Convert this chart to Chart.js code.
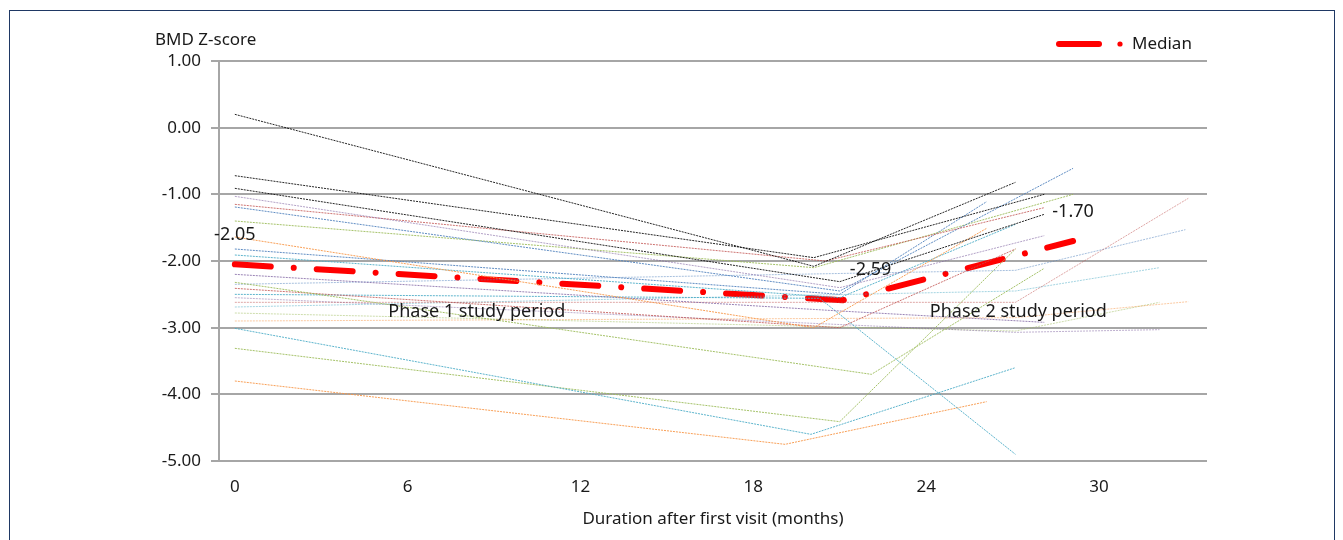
<!DOCTYPE html>
<html>
<head>
<meta charset="utf-8">
<script src="https://cdn.jsdelivr.net/npm/chart.js@4.4.0/dist/chart.umd.min.js"></script>
<style>
body { margin: 0; background: #fff; overflow: hidden; }
#frame { position: absolute; left: 9px; top: 10px; width: 1324px; height: 600px; border: 1px solid #1f3864; }
#wrap { position: absolute; left: 0; top: 0; width: 1343px; height: 540px; }
</style>
</head>
<body>
<div id="frame"></div>
<div id="wrap"><canvas id="chart"></canvas></div>
<script>
/* BMD Z-score per patient, 3 visits each, plus the median */
var xTicks = [0, 6, 12, 18, 24, 30];
var yTicks = [-5, -4, -3, -2, -1, 0, 1];
var phaseLabels = ['Phase 1 study period', 'Phase 2 study period'];
var medianMonths = [0, 21.1, 29.1];
var medianScores = [-2.05, -2.59, -1.70];

var patientMonths = [
	[0, 20.1, 27.1], [0, 20.1, 28.1], [0, 21.0, 28.1], [0, 21.0, 28.1],
	[0, 20.5, 28.1], [0, 21.0, 29.1], [0, 20.1, 29.1], [0, 20.1, 26.1],
	[0, 21.0, 26.1], [0, 21.0, 27.1], [0, 21.0, 28.1], [0, 22.1, 28.1],
	[0, 21.0, 27.1], [0, 20.3, 27.1], [0, 27.1, 33.1], [0, 27.1, 33.0],
	[0, 27.1, 32.1], [0, 27.1, 33.1], [0, 27.1, 32.1], [0, 20.0, 27.1],
	[0, 21.0, 27.1], [0, 19.1, 26.1], [0, 27.1, 32.1]
];
var patientScores = [
	[0.20, -2.08, -0.82], [-0.72, -1.95, -1.00], [-0.91, -2.31, -1.30], [-1.03, -2.40, -1.62],
	[-1.15, -2.00, -1.20], [-1.19, -2.45, -0.61], [-1.40, -2.10, -1.00], [-1.64, -3.00, -1.51],
	[-1.82, -2.50, -1.11], [-1.91, -2.55, -1.45], [-2.20, -2.75, -2.92], [-2.32, -3.70, -2.11],
	[-2.41, -3.00, -1.82], [-2.50, -2.56, -4.90], [-2.62, -2.62, -1.06], [-2.35, -2.14, -1.53],
	[-2.69, -2.45, -2.10], [-2.90, -2.85, -2.61], [-2.55, -3.07, -3.03], [-3.01, -4.60, -3.60],
	[-3.31, -4.41, -1.82], [-3.80, -4.75, -4.11], [-2.78, -3.05, -2.62]
];
var patientColors = [
	'rgba(0,0,0,0.85)', 'rgba(0,0,0,0.85)', 'rgba(0,0,0,0.85)', 'rgba(128,100,162,0.6)',
	'rgba(192,80,77,0.8)', 'rgba(79,129,189,0.9)', 'rgba(155,187,89,0.9)', 'rgba(247,150,70,0.9)',
	'rgba(79,129,189,0.9)', 'rgba(75,172,198,0.9)', 'rgba(128,100,162,0.8)', 'rgba(155,187,89,0.9)',
	'rgba(192,80,77,0.8)', 'rgba(75,172,198,0.9)', 'rgba(192,80,77,0.5)', 'rgba(79,129,189,0.5)',
	'rgba(75,172,198,0.5)', 'rgba(247,150,70,0.5)', 'rgba(128,100,162,0.5)', 'rgba(75,172,198,0.9)',
	'rgba(155,187,89,0.9)', 'rgba(247,150,70,0.9)', 'rgba(155,187,89,0.5)'
];

var FONT = '"Noto Sans", "Open Sans", sans-serif';

function toPoints(months, scores) {
	return months.map(function (m, j) { return { x: m, y: scores[j] }; });
}

var datasets = [];
for (var i = 0; i < patientMonths.length; i++) {
	datasets.push({
		label: 'Patient ' + (i + 1),
		data: toPoints(patientMonths[i], patientScores[i]),
		showLine: true,
		borderColor: patientColors[i],
		borderWidth: 1,
		borderDash: [2, 1],
		pointRadius: 0
	});
}
datasets.push({
	label: 'Median',
	data: toPoints(medianMonths, medianScores),
	showLine: true,
	borderColor: '#ff0000',
	borderWidth: 6,
	borderDash: [36, 23, 0.01, 23],
	borderCapStyle: 'round',
	borderJoinStyle: 'round',
	pointRadius: 0
});

/* texts: axis title, labels of the median, phase names, legend */
var textPlugin = {
	id: 'texts',
	afterDatasetsDraw: function (chart) {
		var ctx = chart.ctx, area = chart.chartArea;
		var xs = chart.scales.x, ys = chart.scales.y;
		ctx.save();
		ctx.fillStyle = '#1a1a1a';
		ctx.textBaseline = 'middle';

		ctx.font = '17px ' + FONT;
		ctx.textAlign = 'left';
		ctx.fillText('BMD Z-score', area.left - 64, area.top - 21);

		ctx.font = '18px ' + FONT;
		ctx.textAlign = 'center';
		var phaseMonths = [8.4, 27.2];
		for (var k = 0; k < phaseLabels.length; k++) {
			ctx.fillText(phaseLabels[k], xs.getPixelForValue(phaseMonths[k]), ys.getPixelForValue(-2.77));
		}

		var meta = chart.getDatasetMeta(chart.data.datasets.length - 1);
		var offs = [[0, -29], [28, -30], [0, -29]];
		meta.data.forEach(function (pt, j) {
			ctx.fillText(medianScores[j].toFixed(2), pt.x + offs[j][0], pt.y + offs[j][1]);
		});

		// legend
		var ly = area.top - 17;
		ctx.strokeStyle = '#ff0000';
		ctx.lineWidth = 6;
		ctx.lineCap = 'round';
		ctx.beginPath();
		ctx.moveTo(area.right - 148, ly);
		ctx.lineTo(area.right - 108, ly);
		ctx.stroke();
		ctx.fillStyle = '#ff0000';
		ctx.beginPath();
		ctx.arc(area.right - 87, ly, 2.6, 0, Math.PI * 2);
		ctx.fill();
		ctx.fillStyle = '#1a1a1a';
		ctx.font = '17px ' + FONT;
		ctx.textAlign = 'left';
		ctx.fillText('Median', area.right - 75, ly);
		ctx.restore();
	}
};

new Chart(document.getElementById('chart'), {
	type: 'scatter',
	data: { datasets: datasets },
	options: {
		responsive: true,
		maintainAspectRatio: false,
		animation: false,
		layout: { padding: { top: 61, right: 136, left: 0, bottom: 0 } },
		plugins: {
			legend: { display: false },
			tooltip: { enabled: false }
		},
		scales: {
			x: {
				type: 'linear',
				min: -0.55,
				max: 33.75,
				afterBuildTicks: function (scale) {
					scale.ticks = xTicks.map(function (v) { return { value: v }; });
				},
				afterFit: function (scale) { scale.height = 79; },
				grid: { display: false, drawTicks: false },
				border: { display: false },
				ticks: {
					padding: 16,
					color: '#1a1a1a',
					font: { family: FONT, size: 17 },
					maxRotation: 0,
					callback: function (v) { return '' + v; }
				},
				title: {
					display: true,
					text: 'Duration after first visit (months)',
					color: '#1a1a1a',
					font: { family: FONT, size: 17 },
					padding: { top: 11, bottom: 11 }
				}
			},
			y: {
				type: 'linear',
				min: -5,
				max: 1,
				afterBuildTicks: function (scale) {
					scale.ticks = yTicks.map(function (v) { return { value: v }; });
				},
				afterFit: function (scale) { scale.width = 219; },
				grid: { color: '#a6a6a6', lineWidth: 2, tickLength: 8, drawTicks: true },
				border: { display: true, color: '#a6a6a6', width: 2 },
				ticks: {
					padding: 10,
					color: '#1a1a1a',
					font: { family: FONT, size: 17 },
					callback: function (v) { return v.toFixed(2); }
				}
			}
		}
	},
	plugins: [textPlugin]
});
</script>
</body>
</html>
